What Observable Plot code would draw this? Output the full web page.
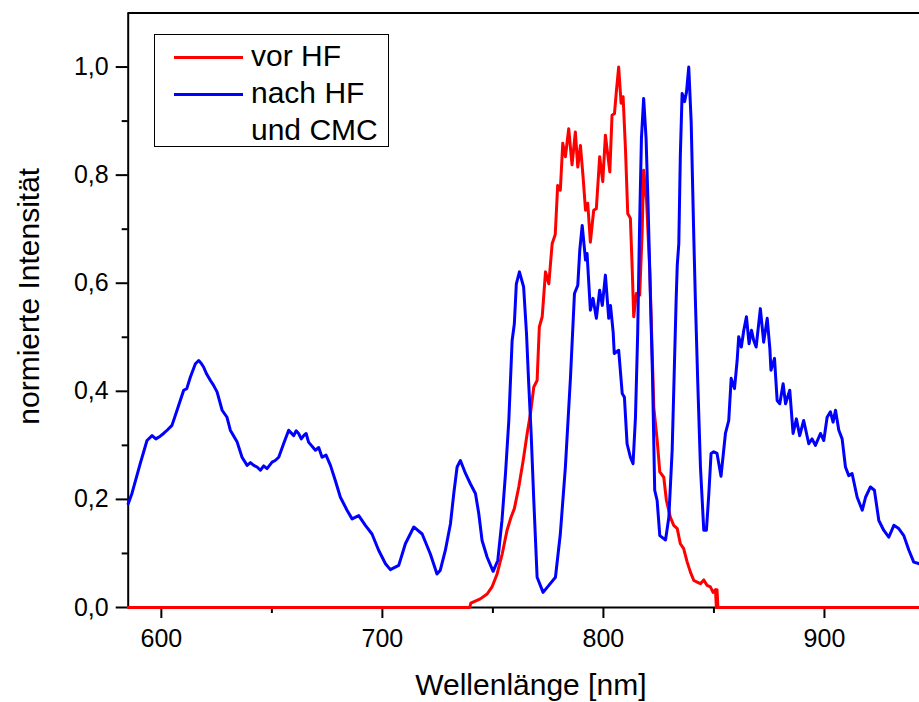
<!DOCTYPE html>
<html>
<head>
<meta charset="utf-8">
<script src="https://cdn.jsdelivr.net/npm/d3@7"></script>
<script src="https://cdn.jsdelivr.net/npm/@observablehq/plot@0.6"></script>
<style>
  body { margin: 0; background: white; }
  #wrap { position: relative; width: 919px; height: 702px; overflow: hidden; font-family: "Liberation Sans", Arial, sans-serif; }
  #legend { position: absolute; left: 154px; top: 34px; width: 233px; height: 111px; border: 1px solid black; background: white; }
  #legend .ln { position: absolute; left: 19px; width: 69px; height: 3px; }
  #legend .tx { position: absolute; left: 96px; font-size: 30px; line-height: 30px; white-space: nowrap; color: black; }
</style>
</head>
<body>
<div id="wrap"></div>
<script>
// ---- data ----
const xDomain = [585, 943];
const yDomain = [0, 1.1];
const xMajor = [600, 700, 800, 900];
const xMinor = [650, 750, 850];
const yMajor = [0, 0.2, 0.4, 0.6, 0.8, 1.0];
const yMinor = [0.1, 0.3, 0.5, 0.7, 0.9];
const seriesNames = ["vor HF", "nach HF\nund CMC"];
const seriesColors = ["#ff0000", "#0000ff"];
const xTitle = "Wellenlänge [nm]";
const yTitle = "normierte Intensität";

// nach HF und CMC (blue)
const blueX = [585,586.7,590.5,593.5,595.8,597.5,599.5,601,602.6,604.8,607.1,610.1,611.5,613.1,615.4,616.9,618,619.1,620.5,622.2,623.5,625.2,627.5,629.7,631.2,634.3,636.5,638.8,640.3,641.8,643.3,644.8,646.3,647.8,650.1,651.5,653.1,655.3,657.6,659.9,661,662.1,663.3,664.4,665.5,666.6,669.7,671.2,672.7,674.5,676.5,678.7,681,684,686.3,689.3,692.3,695.3,698.3,701.4,703.6,707.4,710.4,714.2,718,721.7,724.7,726.2,728.5,730.8,732.3,733.8,735.3,737.6,739.8,742.1,743.6,745.1,747.4,750.1,752.2,754.1,755.7,757.2,758.7,759.7,760.6,762,763.9,765.2,766.2,767.3,768.5,770,772.7,775.3,778.3,780.5,782.8,785.1,786.9,788.4,789.3,790.4,791.9,792.6,794.1,795.3,796.8,798.3,799.5,800.9,802.4,803.2,804.4,804.9,806.9,808.5,809.5,810.7,812.2,813.4,814.5,815.5,816.4,817.2,818.2,819.3,820.2,821.3,822.2,823.2,824.3,825.5,828.1,829.6,831.1,832.1,832.9,833.4,834.1,834.8,835.6,836.7,837.6,838.6,839.7,840.9,841.6,842.7,843.9,845.4,846.6,847.7,848.7,849.9,851.4,853.2,855.2,856.7,857.8,859.3,860.5,861.2,862.4,863.5,864.7,865.9,867,868,869.1,871,872.5,874.1,875.3,875.8,877.4,878.6,879.8,881.3,882.4,884.3,885.8,887.3,888.8,890.6,892.9,894.4,895.9,898.2,899.7,901.2,902.7,903.9,905,906.5,908,909.5,911,912.5,914.8,917.1,918.6,920.8,922.6,924.6,926.8,929.1,931.4,933.6,935.9,938.2,940.4,943];
const blueY = [0.192,0.211,0.267,0.309,0.318,0.312,0.317,0.322,0.328,0.337,0.365,0.402,0.405,0.426,0.451,0.457,0.452,0.445,0.432,0.420,0.412,0.399,0.365,0.352,0.328,0.306,0.278,0.263,0.268,0.263,0.260,0.254,0.262,0.257,0.269,0.272,0.278,0.303,0.328,0.318,0.327,0.322,0.312,0.318,0.322,0.306,0.291,0.296,0.278,0.282,0.263,0.235,0.204,0.180,0.164,0.170,0.152,0.136,0.106,0.081,0.070,0.078,0.118,0.149,0.136,0.099,0.062,0.069,0.106,0.155,0.211,0.260,0.272,0.248,0.229,0.211,0.174,0.124,0.093,0.067,0.087,0.161,0.248,0.346,0.494,0.525,0.599,0.621,0.593,0.507,0.414,0.322,0.198,0.056,0.028,0.041,0.056,0.136,0.260,0.426,0.581,0.596,0.661,0.707,0.643,0.655,0.550,0.572,0.535,0.587,0.559,0.615,0.535,0.559,0.510,0.470,0.476,0.396,0.389,0.303,0.278,0.266,0.352,0.507,0.714,0.868,0.942,0.868,0.744,0.569,0.430,0.217,0.198,0.133,0.125,0.167,0.291,0.445,0.569,0.633,0.673,0.837,0.951,0.936,0.954,1.000,0.899,0.683,0.569,0.414,0.260,0.143,0.143,0.211,0.285,0.288,0.285,0.243,0.322,0.346,0.424,0.405,0.457,0.501,0.482,0.513,0.538,0.488,0.513,0.494,0.482,0.553,0.491,0.535,0.479,0.439,0.461,0.383,0.377,0.414,0.377,0.402,0.322,0.349,0.318,0.346,0.303,0.312,0.300,0.322,0.309,0.352,0.362,0.343,0.365,0.328,0.312,0.260,0.244,0.248,0.204,0.180,0.204,0.223,0.217,0.161,0.143,0.130,0.152,0.146,0.133,0.106,0.084,0.081];

// vor HF (red)
const redX = [585,739.5,740,744.3,747.4,749.6,751.9,754.2,756.4,758.2,759.7,761.7,763.7,765.5,767,768.5,770,771,772.3,773.8,775.3,776.8,778.2,779.3,780.5,781.6,782.8,784.3,785.8,787.3,788.4,789.6,790.8,791.9,792.9,794.1,795.6,796.8,798.3,799.7,800.9,802.9,803.9,805,805.9,806.9,808,808.9,810,811,812.2,813,813.7,814.9,816.4,817.5,818.2,819.5,821,822,822.8,824.3,825.5,827.3,828.5,830.3,831.8,833.4,834.8,836.3,837.9,839.4,840.9,842.4,843.9,845.4,846.9,848.4,849.6,850.7,851.1,851.4,851.8,943];
const redY = [0,0,0.008,0.016,0.025,0.038,0.062,0.099,0.143,0.167,0.183,0.223,0.272,0.322,0.359,0.408,0.420,0.519,0.538,0.621,0.599,0.673,0.690,0.781,0.772,0.859,0.834,0.886,0.819,0.880,0.815,0.855,0.797,0.735,0.748,0.676,0.735,0.738,0.834,0.788,0.874,0.806,0.911,0.914,0.957,1.000,0.933,0.945,0.846,0.729,0.720,0.630,0.538,0.581,0.578,0.692,0.809,0.754,0.620,0.480,0.370,0.310,0.251,0.241,0.198,0.167,0.152,0.146,0.118,0.109,0.084,0.065,0.050,0.047,0.044,0.051,0.041,0.038,0.028,0.033,0,0.033,0,0];

// ---- build ----
const blue = blueX.map((x, i) => ({x, y: blueY[i]}));
const red = redX.map((x, i) => ({x, y: redY[i]}));
const fmt = d => d.toFixed(1).replace(".", ",");

const chart = Plot.plot({
  width: 919,
  height: 702,
  marginLeft: 127.7,
  marginRight: 0,
  marginTop: 12.5,
  marginBottom: 95,
  x: {domain: xDomain},
  y: {domain: yDomain},
  style: {fontFamily: "'Liberation Sans', Arial, sans-serif", fontSize: "25px", color: "black", background: "white", overflow: "hidden"},
  marks: [
    Plot.axisX(xMajor, {tickSize: 11, tickPadding: 11, tickFormat: d => String(d), strokeWidth: 2, fontSize: 25, label: null}),
    Plot.axisX(xMinor, {tickSize: 6, tickFormat: () => "", strokeWidth: 2, label: null}),
    Plot.axisY(yMajor, {tickSize: 12, tickPadding: 7.5, tickFormat: fmt, strokeWidth: 2, fontSize: 25, label: null}),
    Plot.axisY(yMinor, {tickSize: 6, tickFormat: () => "", strokeWidth: 2, label: null}),
    Plot.ruleX([xDomain[0]], {stroke: "black", strokeWidth: 2}),
    Plot.ruleY([yDomain[1]], {stroke: "black", strokeWidth: 2}),
    Plot.ruleY([0], {stroke: "black", strokeWidth: 2}),
    Plot.line(red, {x: "x", y: "y", stroke: seriesColors[0], strokeWidth: 3, strokeLinejoin: "round"}),
    Plot.line(blue, {x: "x", y: "y", stroke: seriesColors[1], strokeWidth: 3, strokeLinejoin: "round"}),
    Plot.text([xTitle], {frameAnchor: "bottom", lineAnchor: "bottom", textAnchor: "middle", dy: 87, dx: 7, fontSize: 30, fill: "black"}),
    Plot.text([yTitle], {frameAnchor: "left", rotate: -90, lineAnchor: "bottom", textAnchor: "middle", dx: -89.2, dy: -14, fontSize: 30, fill: "black"})
  ]
});

const wrap = document.getElementById("wrap");
wrap.appendChild(chart);

// legend overlay
const legend = document.createElement("div");
legend.id = "legend";
const lineTops = [20.5, 57.5];
const textTops = [5.6, 42.6];
seriesNames.forEach((name, i) => {
  const ln = document.createElement("div");
  ln.className = "ln";
  ln.style.top = lineTops[i] + "px";
  ln.style.background = seriesColors[i];
  legend.appendChild(ln);
  name.split("\n").forEach((part, j) => {
    const tx = document.createElement("div");
    tx.className = "tx";
    tx.style.top = (textTops[i] + j * 37) + "px";
    tx.textContent = part;
    legend.appendChild(tx);
  });
});
wrap.appendChild(legend);
</script>
</body>
</html>
